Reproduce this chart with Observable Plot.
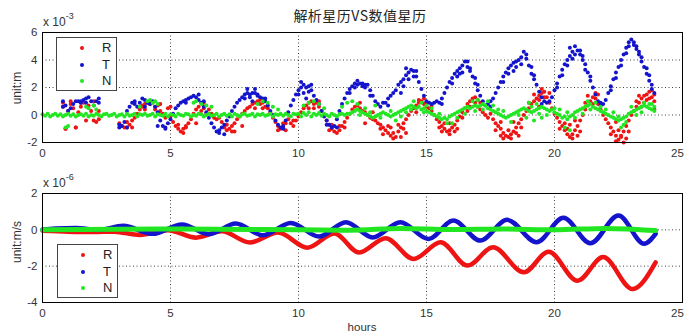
<!DOCTYPE html>
<html><head><meta charset="utf-8">
<script src="https://cdn.jsdelivr.net/npm/d3@7"></script>
<script src="https://cdn.jsdelivr.net/npm/@observablehq/plot@0.6"></script>
<style>
body{margin:0;background:#fff;font-family:"Liberation Sans",Arial,sans-serif;}
#wrap{position:relative;width:684px;height:334px;overflow:hidden;background:#fff;}
#wrap svg{position:absolute;left:0;}
.abs{position:absolute;white-space:nowrap;color:#333;font-size:12px;line-height:1;z-index:2;}
.legend{position:absolute;border:1px solid #444;background:#fff;z-index:3;box-sizing:border-box;}
.lrow{position:absolute;left:0;width:100%;height:16px;}
.lmark{position:absolute;left:23px;top:6px;width:4px;height:4px;border-radius:50%;}
.ltext{position:absolute;left:45px;top:0;font-size:13px;color:#222;line-height:16px;}
</style></head>
<body><div id="wrap"></div>
<script>
// ---------- data ----------
const TITLE = "解析星历VS数值星历";
const SERIES = ["R", "T", "N"];
const COLORS = ["#ee1414", "#1414cc", "#22e622"];
const X_TICKS = [0, 5, 10, 15, 20, 25];
const Y_TICKS_POS = [-2, 0, 2, 4, 6];
const Y_TICKS_VEL = [-4, -2, 0, 2];
const POS_EXP = "-3";
const VEL_EXP = "-6";

// position errors (x 1e-3 m), sampled every 0.1 h from 0.0 to 24.0
const HOURS_TOP = d3.range(0, 241).map(i => i / 10);
const POS_R = [
 null,null,null,null,null,null,null,null,0.6,-1.0,
 0.3,0.8,0.5,-0.9,0.2,0.6,0.9,-0.4,0.7,0.3,
 -0.4,-0.5,-0.3,null,null,null,null,null,null,null,
 -0.6,-0.8,-0.9,-0.9,-0.7,-0.4,-0.2,0.1,0.4,0.6,
 0.8,0.9,0.8,0.9,0.6,0.7,0.3,0.1,-0.2,0.5,
 -0.1,-0.5,-0.8,-1.0,-1.2,-1.0,-0.8,-0.6,-0.3,0.1,
 0.4,0.6,0.3,0.5,0.1,0.4,0.1,-0.2,-0.3,-0.2,
 -0.5,-0.9,-1.1,-1.0,-0.8,-0.6,-0.3,-0.1,0.1,0.3,
 0.5,0.6,0.8,0.9,1.0,0.8,0.9,0.6,0.5,0.2,
 -0.2,-0.5,-0.8,-1.0,-0.9,-0.6,-0.3,-0.6,-0.8,-0.4,
 -0.1,0.2,0.5,0.7,0.9,1.0,0.8,0.9,0.6,0.3,
 0.0,-0.4,-0.7,-1.0,-1.2,-1.3,-1.1,-0.8,-0.5,-0.2,
 0.1,0.4,0.6,0.7,0.5,0.3,0.2,0.0,-0.2,-0.3,
 -0.4,-0.6,-0.7,-0.9,-1.1,-1.3,-1.5,-1.3,-1.6,-1.2,
 -0.9,-0.6,-0.3,0.0,0.3,0.5,0.7,0.9,1.0,0.8,
 0.6,0.5,0.3,0.0,-0.3,-0.5,-0.8,-1.0,-1.2,-1.1,
 -0.9,-0.7,-0.4,-0.1,0.2,0.5,0.8,1.0,1.2,0.9,
 0.6,0.4,0.2,0.0,-0.2,0.1,-0.3,-0.6,-0.8,-1.0,
 -1.3,-1.5,-1.6,-1.4,-1.2,-0.9,-0.6,-0.3,0.0,0.3,
 0.5,0.8,1.0,1.2,1.4,1.6,1.7,1.3,0.9,0.5,
 0.1,-0.2,-0.5,-0.8,-1.1,-1.4,-1.6,-1.4,-1.1,-0.8,
 -0.4,0.0,0.4,0.7,1.0,1.3,1.2,0.8,0.4,0.0,
 -0.3,-0.6,-0.9,-1.2,-1.5,-1.8,-1.5,-1.2,-0.8,-0.4,
 0.0,0.3,0.6,0.9,1.2,1.4,1.5,1.7,1.3,1.0,
 null
];
const POS_T = [
 null,null,null,null,null,null,null,null,1.0,0.7,
 0.3,0.5,0.8,1.0,1.0,0.9,1.1,1.2,1.3,1.0,
 0.7,1.0,0.9,null,null,null,null,null,null,null,
 -0.9,-0.8,-0.5,0.3,0.6,0.9,0.8,0.6,0.9,1.2,
 1.1,0.9,0.8,1.0,0.6,0.2,-0.4,-0.8,-0.9,-0.6,
 -0.3,0.1,0.5,0.7,0.9,1.0,1.1,1.2,1.3,1.4,
 1.3,1.1,0.9,0.6,0.2,-0.2,-0.6,-0.9,-1.2,-1.1,
 -0.9,-0.7,-0.4,-0.1,0.3,0.6,0.9,1.1,1.3,1.5,
 1.6,1.5,1.6,1.9,1.5,1.3,1.2,1.0,0.7,0.3,
 0.0,-0.4,-0.7,-0.9,-0.8,-0.4,0.2,0.7,1.1,1.5,
 1.8,2.4,2.2,2.0,2.1,1.8,1.4,1.1,0.8,0.3,
 -0.1,-0.4,-0.7,-0.9,-0.8,-0.3,0.3,0.8,1.2,1.6,
 1.9,2.1,2.3,2.5,2.3,2.1,2.0,2.2,1.8,1.4,
 1.0,0.8,0.6,0.9,0.9,1.2,1.4,1.6,1.8,2.2,
 2.4,2.6,2.9,3.1,3.3,3.2,2.8,2.4,1.9,1.4,
 1.0,0.9,0.8,0.9,1.0,0.9,1.2,1.6,2.0,2.4,
 2.7,3.0,3.2,3.4,3.6,3.9,3.5,3.2,2.8,2.3,
 1.8,1.4,1.0,0.7,0.8,1.0,1.2,1.6,2.0,2.4,
 2.8,3.1,3.4,3.6,3.8,3.9,4.0,4.2,4.6,4.1,
 3.6,3.0,2.6,2.2,1.7,1.3,1.0,0.9,1.0,1.3,
 1.8,2.3,2.8,3.3,3.7,4.0,4.3,4.6,5.0,4.7,
 4.4,4.3,3.7,3.1,2.5,2.0,1.5,1.0,0.7,0.8,
 1.1,1.6,2.1,2.6,3.1,3.5,4.0,4.4,4.9,5.3,
 5.5,5.3,4.8,4.4,3.9,3.5,3.0,2.5,1.9,1.6,
 null
];
const POS_N = [
 0.05,-0.05,0.1,-0.1,0.0,0.1,-0.05,0.05,-0.1,0.0,
 0.1,-0.05,0.05,-0.1,0.0,0.05,-0.05,0.1,-0.1,0.0,
 -0.05,0.1,0.0,-0.1,0.05,0.1,-0.05,0.0,0.1,-0.1,
 0.0,0.05,-0.1,0.1,-0.05,0.0,0.1,-0.1,0.05,0.0,
 0.1,-0.05,0.0,0.1,-0.1,0.05,0.0,-0.05,0.1,-0.1,
 0.05,0.0,-0.1,0.1,0.0,-0.05,0.1,0.05,-0.1,0.0,
 -0.05,0.1,0.05,-0.1,0.0,0.1,-0.05,0.0,0.1,-0.1,
 0.0,0.1,-0.05,0.05,-0.1,0.1,0.0,-0.1,0.05,0.1,
 -0.05,0.0,0.1,-0.1,0.05,0.0,0.1,-0.05,0.0,0.1,
 -0.1,0.05,0.0,0.1,-0.05,0.1,0.0,-0.1,0.1,0.05,
 0.1,-0.1,0.15,0.0,0.2,-0.1,0.1,0.0,0.15,-0.05,
 0.1,0.0,-0.1,0.1,0.0,-0.1,0.05,0.1,0.0,0.1,
 0.1,0.2,0.3,0.4,0.3,0.2,0.1,0.0,-0.1,-0.2,
 -0.1,0.0,0.1,0.2,0.1,0.0,-0.1,0.0,0.1,0.2,
 0.3,0.4,0.5,0.6,0.7,0.6,0.5,0.6,0.4,0.5,
 0.3,0.2,0.1,0.0,-0.1,-0.2,-0.3,-0.2,-0.3,-0.1,
 0.0,0.1,0.2,0.3,0.4,0.5,0.6,0.5,0.6,0.7,
 0.6,0.7,0.8,0.7,0.5,0.4,0.3,0.2,0.1,0.0,
 -0.1,-0.2,-0.1,0.0,0.1,0.2,0.3,0.4,0.5,0.4,
 0.3,0.2,0.3,0.4,0.5,0.6,0.5,0.4,0.3,0.4,
 0.2,0.1,0.0,-0.2,-0.1,-0.3,-0.1,0.0,0.2,0.3,
 0.4,0.5,0.6,0.7,0.8,0.6,0.5,0.4,0.3,0.2,
 0.1,0.0,-0.1,-0.2,-0.3,-0.4,-0.3,-0.2,-0.1,0.1,
 0.2,0.3,0.4,0.5,0.6,0.7,0.6,0.5,0.4,0.3,
 null
];
// scattered off-track points [hour, value]
const POS_R_EXTRA = [[0.8,0.9],[1.1,1.0],[1.5,0.9],[2.0,1.0],[2.2,0.3],[1.3,-0.9],[0.9,-1.0],[3.9,0.7],[4.2,1.0],[4.4,0.4],[5.0,0.6],[5.6,-0.9],[6.3,0.9],[6.0,-0.6],[7.5,-1.2],[7.8,-0.8],[8.6,0.5],[9.5,-1.1],[9.8,-0.4],[10.6,0.5],[11.2,-1.1],[11.8,-0.9],[12.4,0.9],[13.2,-1.0],[13.6,-0.9],[14.0,-1.6],[14.2,-1.3],[14.9,1.2],[15.6,-1.2],[15.9,-0.6],[16.2,-1.0],[16.6,0.3],[17.0,1.1],[17.9,-1.5],[18.3,-1.7],[18.5,-1.3],[18.4,-0.5],[19.4,0.6],[19.5,1.9],[20.4,-0.6],[20.7,-1.7],[20.8,-0.4],[21.3,1.4],[21.7,1.5],[22.4,-0.5],[22.6,-1.6],[22.7,-2.0],[23.4,0.6],[23.6,1.1],[23.8,1.8],[23.9,0.4],
 [3.3,-0.5],[3.5,-0.9],[4.0,0.4],[4.6,0.8],[5.3,-0.7],[5.5,-1.3],[7.2,-0.7],[7.4,-1.2],[8.3,0.5],[8.5,1.1],[9.2,-1.1],[9.4,-0.6],[10.4,0.5],[10.8,1.0],[11.3,-0.7],[11.6,-0.8],
 [12.6,-0.6],[12.9,0.2],[13.3,-1.4],[13.5,-0.8],[13.7,-1.7],[13.9,-0.7],[14.1,-1.0],[14.6,0.2],[14.7,1.1],[15.0,0.9],[15.2,0.7],[15.5,-0.9],[15.7,-0.6],[15.9,-1.4],[16.1,-1.2],[16.4,-0.2],[16.7,0.6],[16.9,1.3],[17.1,0.9],[17.7,-1.1],[17.9,-0.5],[18.0,-1.7],[18.2,-1.1],[18.6,-1.5],[18.7,-0.9],[19.0,0.9],[19.2,1.5],[19.4,1.1],[19.6,1.3],[19.8,1.6],[20.2,-1.0],[20.5,-1.0],[20.6,-0.7],[20.9,-1.5],[21.0,-1.2],[21.2,0.9],[21.5,0.8],[21.6,1.6],[22.2,-1.4],[22.4,-1.9],[22.5,-1.1],[22.8,-1.7],[22.9,-1.2],[23.2,1.0],[23.3,1.4],[23.5,0.9],[23.7,1.2],[23.9,1.5]];
const POS_T_EXTRA = [[0.8,0.6],[1.5,1.0],[1.7,0.9],[2.2,1.2],[3.0,-0.7],[3.3,-0.9],[3.6,1.0],[4.0,0.6],[4.5,-0.8],[4.8,-1.0],[5.6,0.9],[6.1,1.5],[6.3,1.0],[6.9,-1.3],[7.1,-1.4],[7.9,1.2],[8.2,1.0],[8.4,1.4],[8.7,1.2],[9.4,-1.0],[10.2,1.6],[10.3,1.2],[10.5,2.2],[11.5,-0.9],[11.1,-0.7],[12.2,2.0],[12.5,2.3],[12.8,1.4],[13.5,0.7],[14.2,3.4],[14.5,2.8],[14.6,3.2],[15.6,0.8],[16.4,3.1],[16.6,3.9],[16.7,3.4],[17.5,0.6],[18.4,3.2],[18.7,3.7],[18.9,4.4],[19.5,0.8],[20.6,4.9],[20.8,4.4],[21.0,4.7],[21.8,0.9],[22.9,5.0],[23.1,5.1],[23.3,4.6],[23.8,2.2],
 [14.0,1.6],[14.1,2.1],[14.3,2.6],[16.0,2.3],[16.2,2.8],[16.3,3.0],[16.9,2.7],[17.0,2.2],[18.0,2.4],[18.2,3.0],[18.5,3.5],[19.1,3.5],[19.2,2.9],[20.1,2.0],[20.3,2.9],[20.5,3.6],[20.7,4.1],[21.1,4.0],[21.2,3.3],[21.4,2.8],[22.2,1.8],[22.4,2.7],[22.6,3.6],[22.8,4.5],[23.2,5.0],[23.4,4.2],[23.6,3.4],[23.7,2.9],[12.0,1.6],[12.3,2.2],[12.6,2.2],[10.0,1.5],[10.1,2.0],[10.4,1.7],[8.1,1.3],[8.3,1.6],[8.0,1.9]];
const POS_N_EXTRA = [[0.9,-0.9],[1.0,-0.8],[1.7,0.6],[1.8,0.5],[2.0,0.7],[2.1,0.4],[4.1,1.0],[4.2,1.1],[4.3,0.9],[4.4,1.0],[4.5,0.8],[3.8,0.6],[5.9,0.9],[6.0,1.0],[6.2,0.8],[6.4,0.7],[6.6,0.6],[8.4,0.8],[8.6,1.0],[8.8,0.9],[9.0,0.6],[9.2,0.4],[10.2,0.7],[10.4,0.9],[10.6,1.0],[10.8,0.8],[11.0,0.5],[11.7,0.6],[11.9,0.9],[12.1,1.0],[12.3,0.8],[13.0,0.7],[14.5,1.0],[14.8,0.9],[15.0,0.7],[16.8,1.0],[17.0,1.1],[17.4,1.0],[19.0,0.9],[19.3,0.8],[19.2,-0.4],[19.5,-0.2],[20.4,-0.9],[20.6,-1.1],[21.3,1.0],[21.6,0.9],[22.6,-0.9],[22.7,-0.7],[23.5,0.9],[23.8,0.8],[18.3,-0.5],[16.0,-0.6],[13.8,-0.4],
 [12.4,0.0],[12.6,0.5],[12.8,0.2],[13.2,-0.2],[13.6,0.3],[14.0,-0.1],[14.2,0.2],[14.4,0.4],[14.9,0.2],[15.2,0.5],[15.5,0.1],[15.8,-0.6],[16.2,-0.2],[16.5,0.1],[16.9,0.3],[17.2,0.4],[17.6,0.7],[17.8,0.4],[18.0,0.3],[18.6,0.0],[18.9,-0.2],[19.1,0.6],[19.4,0.1],[19.7,0.0],[20.0,0.5],[20.2,0.4],[20.5,0.2],[20.8,-0.2],[21.1,0.1],[21.4,0.4],[21.8,0.6],[22.0,0.4],[22.3,0.2],[22.5,-0.1],[22.8,-0.5],[23.0,0.6],[23.2,0.0],[23.4,0.2],[23.7,0.8],[23.9,0.6]];

// velocity errors (x 1e-6 m/s), read at turning points
const VEL_R_HOURS = [0, 1.0, 2.0, 2.8, 3.8, 4.9, 6.0, 7.0, 8.1, 9.2, 10.35, 11.4, 12.37, 13.4, 14.5, 15.55, 16.6, 17.6, 18.8, 19.77, 20.9, 21.9, 23.05, 23.95];
const VEL_R = [-0.05, -0.1, -0.12, -0.1, -0.28, -0.02, -0.43, -0.08, -0.7, -0.15, -0.98, -0.2, -1.25, -0.46, -1.6, -0.68, -1.97, -0.96, -2.34, -1.2, -2.8, -1.5, -3.26, -1.79];
const VEL_T_HOURS = [0, 0.5, 1.3, 2.2, 3.15, 4.3, 5.45, 6.5, 7.55, 8.6, 9.7, 10.8, 11.85, 12.9, 13.98, 15.08, 16.05, 17.1, 18.15, 19.3, 20.35, 21.4, 22.5, 23.5, 23.95];
const VEL_T = [0.02, 0.08, 0.1, 0.0, 0.22, -0.22, 0.3, -0.24, 0.35, -0.3, 0.38, -0.37, 0.42, -0.42, 0.42, -0.5, 0.51, -0.59, 0.55, -0.68, 0.66, -0.74, 0.79, -0.77, -0.22];
const VEL_N_HOURS = [0, 5, 10, 12, 14, 16, 18, 20, 22, 23.95];
const VEL_N = [0.0, 0.05, 0.0, -0.02, 0.08, 0.02, 0.05, 0.0, 0.08, -0.04];

// ---------- build ----------
const W = 684, ML = 42, MR = 2;
const wrap = document.getElementById("wrap");
const FONT = "'Liberation Sans', Arial, sans-serif";
const fmt = d => `${d}`;

function toRows(vals, extra) {
  const rows = [];
  vals.forEach((v, i) => { if (v !== null) rows.push({h: HOURS_TOP[i], v}); });
  extra.forEach(([h, v]) => rows.push({h, v}));
  return rows;
}
const posData = [toRows(POS_R, POS_R_EXTRA), toRows(POS_T, POS_T_EXTRA), toRows(POS_N, POS_N_EXTRA)];

const base = {
  width: W, marginLeft: ML, marginRight: MR,
  style: {fontFamily: FONT, fontSize: "11.5px", color: "#333", background: "transparent", overflow: "visible"},
  x: {domain: [0, 25], label: null},
  y: {label: null}
};
const axes = (yTicks) => [
  Plot.gridX(X_TICKS, {stroke: "#000", strokeOpacity: 0.75, strokeDasharray: "1,2.5"}),
  Plot.gridY(yTicks, {stroke: "#000", strokeOpacity: 0.75, strokeDasharray: "1,2.5"}),
  Plot.axisX(X_TICKS.slice(0, -1), {tickSize: 0, tickPadding: 6, tickFormat: fmt, label: null}),
  Plot.axisX(X_TICKS.slice(-1), {tickSize: 0, tickPadding: 6, tickFormat: fmt, label: null, dx: -5}),
  Plot.axisY(yTicks, {tickSize: 0, tickPadding: 5, tickFormat: fmt, label: null})
];

const topPlot = Plot.plot({
  ...base, height: 166, marginTop: 32, marginBottom: 24,
  y: {...base.y, domain: [-2, 6]},
  marks: [
    ...axes(Y_TICKS_POS),
    ...posData.map((rows, i) => Plot.dot(rows, {x: "h", y: "v", r: 2.0, fill: COLORS[i], stroke: null})),
    Plot.frame({stroke: "#000"})
  ]
});
topPlot.style.top = "0px";
wrap.appendChild(topPlot);

const velSets = [[VEL_R_HOURS, VEL_R], [VEL_T_HOURS, VEL_T], [VEL_N_HOURS, VEL_N]];
const botPlot = Plot.plot({
  ...base, height: 168, marginTop: 27, marginBottom: 32,
  y: {...base.y, domain: [-4, 2]},
  marks: [
    ...axes(Y_TICKS_VEL),
    ...velSets.map(([hs, vs], i) => Plot.line(hs.map((h, j) => ({h, v: vs[j]})),
      {x: "h", y: "v", stroke: COLORS[i], strokeWidth: i === 2 ? 5 : 4.5, curve: "monotone-x"})),
    Plot.frame({stroke: "#000"})
  ]
});
botPlot.style.top = "166px";
wrap.appendChild(botPlot);

// ---------- text ----------
function addText(html, css) {
  const d = document.createElement("div");
  d.className = "abs";
  d.innerHTML = html;
  Object.assign(d.style, css);
  wrap.appendChild(d);
  return d;
}
addText(TITLE, {left: "360px", top: "8px", transform: "translateX(-50%)", fontSize: "14px", letterSpacing: "0.5px", fontFamily: "'Noto Sans CJK SC', sans-serif", color: "#222"});
addText(`x 10<sup style="font-size:9px;position:relative;top:-2px">${POS_EXP}</sup>`, {left: "43px", top: "14px", fontSize: "12px"});
addText(`x 10<sup style="font-size:9px;position:relative;top:-2px">${VEL_EXP}</sup>`, {left: "43px", top: "175px", fontSize: "12px"});
addText("unit:m", {left: "17px", top: "88px", transform: "translate(-50%,-50%) rotate(-90deg)", fontSize: "12px"});
addText("unit:m/s", {left: "17px", top: "242px", transform: "translate(-50%,-50%) rotate(-90deg)", fontSize: "12px"});
addText("hours", {left: "362px", top: "322px", transform: "translateX(-50%)", fontSize: "11.5px"});

function addLegend(left, top) {
  const box = document.createElement("div");
  box.className = "legend";
  Object.assign(box.style, {left: left + "px", top: top + "px", width: "61px", height: "54px"});
  SERIES.forEach((s, i) => {
    const row = document.createElement("div");
    row.className = "lrow";
    row.style.top = (2 + i * 16.5) + "px";
    row.innerHTML = `<div class="lmark" style="background:${COLORS[i]}"></div><div class="ltext">${s}</div>`;
    box.appendChild(row);
  });
  wrap.appendChild(box);
}
addLegend(56, 37);
addLegend(57, 244);
</script>
</body></html>
